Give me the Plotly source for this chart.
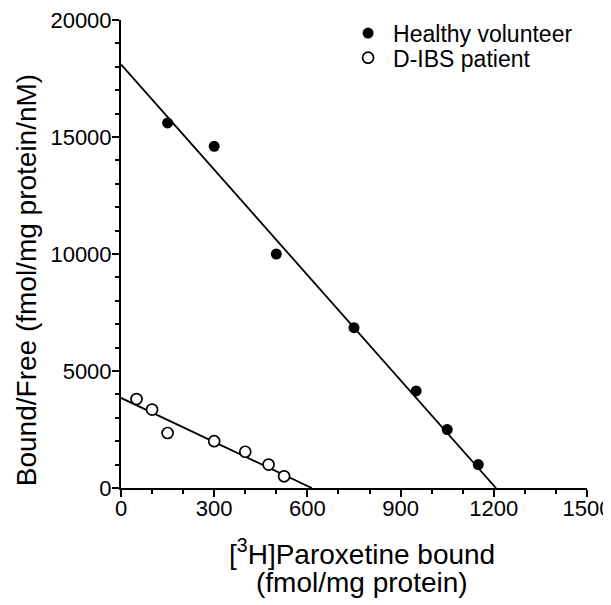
import plotly.graph_objects as go

# Healthy volunteer (filled circles)
healthy_x = [150, 300, 500, 750, 950, 1050, 1150]
healthy_y = [15600, 14600, 10000, 6850, 4150, 2500, 1000]
healthy_fit_intercept = 18100   # Bound/Free at 0 bound
healthy_fit_bmax = 1207         # x-intercept

# D-IBS patient (open circles)
dibs_x = [50, 100, 150, 300, 400, 475, 525]
dibs_y = [3800, 3350, 2350, 2000, 1550, 1000, 500]
dibs_fit_intercept = 3850
dibs_fit_bmax = 614

x_ticks = [0, 300, 600, 900, 1200, 1500]
y_ticks = [0, 5000, 10000, 15000, 20000]

FONT = "Arial, Liberation Sans, sans-serif"

fig = go.Figure()

fig.add_trace(go.Scatter(x=[0, healthy_fit_bmax], y=[healthy_fit_intercept, 0], mode="lines",
                         line=dict(color="black", width=1.8), showlegend=False, hoverinfo="skip"))
fig.add_trace(go.Scatter(x=[0, dibs_fit_bmax], y=[dibs_fit_intercept, 0], mode="lines",
                         line=dict(color="black", width=1.8), showlegend=False, hoverinfo="skip"))

fig.add_trace(go.Scatter(x=healthy_x, y=healthy_y, mode="markers", name="Healthy volunteer",
                         marker=dict(symbol="circle", size=11, color="black",
                                     line=dict(color="black", width=0)), cliponaxis=False,
                         legend="legend"))
fig.add_trace(go.Scatter(x=dibs_x, y=dibs_y, mode="markers", name="D-IBS patient",
                         marker=dict(symbol="circle", size=11, color="white",
                                     line=dict(color="black", width=1.7)), cliponaxis=False,
                         legend="legend2"))

axis_common = dict(showline=True, linecolor="black", linewidth=2, ticks="outside",
                   ticklen=7, tickwidth=2, tickcolor="black", showgrid=False, zeroline=False,
                   automargin=False, ticklabeloverflow="allow",
                   tickfont=dict(family=FONT, size=22, color="black"))

fig.update_xaxes(range=[0, 1500], tickvals=x_ticks, ticktext=[str(v) for v in x_ticks],
                 minor=dict(dtick=100, ticklen=4, tickwidth=2, tickcolor="black", ticks="outside", showgrid=False),
                 ticklabelstandoff=-7, **axis_common)
fig.update_yaxes(range=[0, 20000], tickvals=y_ticks, ticktext=[str(v) for v in y_ticks],
                 minor=dict(dtick=1000, ticklen=4, tickwidth=2, tickcolor="black", ticks="outside", showgrid=False),
                 ticklabelstandoff=-4, **axis_common)

fig.add_annotation(text="Bound/Free (fmol/mg protein/nM)", textangle=-90,
                   xref="paper", yref="paper", x=0, y=0.444, xshift=-95,
                   xanchor="center", yanchor="middle", showarrow=False,
                   font=dict(family=FONT, size=28, color="black"))
fig.add_annotation(text="[<sup>3</sup>H]Paroxetine bound",
                   xref="paper", yref="paper", x=0.517, y=0, yshift=-64,
                   xanchor="center", yanchor="middle", showarrow=False,
                   font=dict(family=FONT, size=28, color="black"))
fig.add_annotation(text="(fmol/mg protein)",
                   xref="paper", yref="paper", x=0.517, y=0, yshift=-94,
                   xanchor="center", yanchor="middle", showarrow=False,
                   font=dict(family=FONT, size=28, color="black"))

legend_common = dict(xanchor="left", yanchor="middle", borderwidth=0, itemwidth=40,
                     font=dict(family=FONT, size=23, color="black"),
                     bgcolor="rgba(0,0,0,0)", itemsizing="trace")

# page is offset by the 8px default body margin: size the figure so the plot area lands where the reference has it
fig.update_layout(
    width=611, height=597,
    margin=dict(l=113, r=32, t=12, b=117, autoexpand=False),
    paper_bgcolor="white", plot_bgcolor="white",
    showlegend=True,
    legend=dict(x=0.4766, y=0.972, **legend_common),
    legend2=dict(x=0.4766, y=0.9194, **legend_common),
)

fig.write_html("out.html")
